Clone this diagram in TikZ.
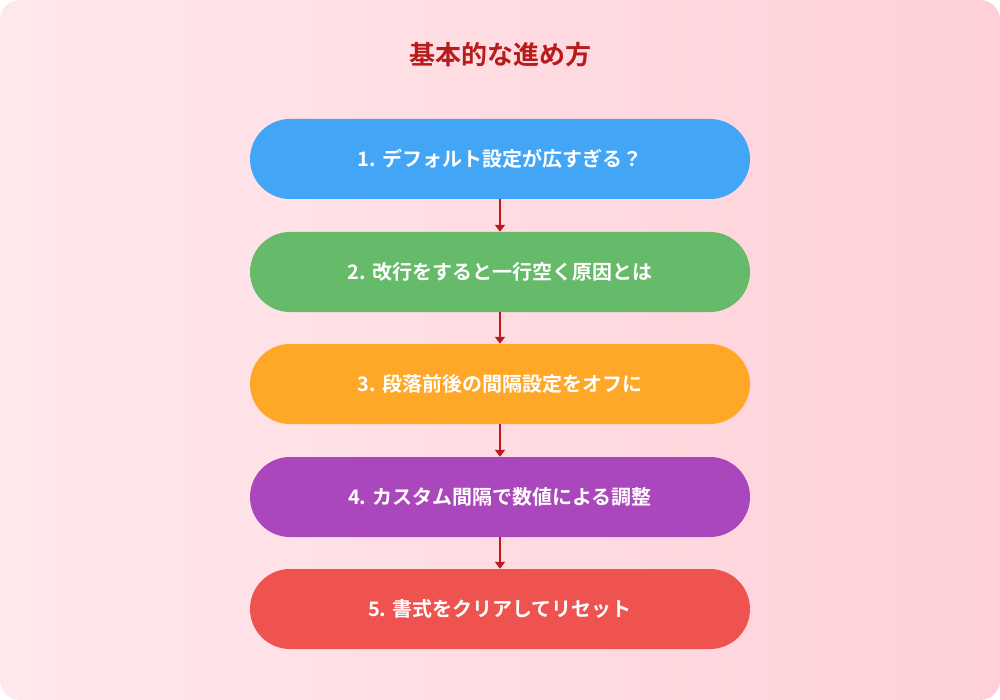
\documentclass[tikz,border=0pt]{standalone}
\usepackage{fontspec}
\setmainfont{Noto Sans CJK JP}[BoldFont={Noto Sans CJK JP Bold}]
\usetikzlibrary{arrows.meta}
\definecolor{bgA}{HTML}{FFE8EC}
\definecolor{bgB}{HTML}{FFD0D8}
\definecolor{ttl}{HTML}{B71C1C}
\definecolor{arr}{HTML}{B71C1C}
\definecolor{cA}{HTML}{42A5F5}
\definecolor{cB}{HTML}{66BB6A}
\definecolor{cC}{HTML}{FFA726}
\definecolor{cD}{HTML}{AB47BC}
\definecolor{cE}{HTML}{EF5350}
\begin{document}
\begin{tikzpicture}[x=1pt,y=-1pt,
  stepbox/.style={minimum width=500pt,minimum height=80pt,rounded corners=40pt,text=white,font=\bfseries\fontsize{20}{24}\selectfont,inner sep=0pt},
  conn/.style={arr,line width=2.5pt,-{Triangle[length=7pt,width=10pt]}}]
\useasboundingbox (0,0) rectangle (1000,700);
\shade[rounded corners=20pt,left color=bgA,right color=bgB] (0,0) rectangle (1000,700);
\node[text=ttl,font=\bfseries\fontsize{26}{30}\selectfont] (t) at (500,55) {基本的な進め方};
\node[stepbox,fill=cA] (a) at (500,159) {1. デフォルト設定が広すぎる？};
\node[stepbox,fill=cB] (b) at (500,272) {2. 改行をすると一行空く原因とは};
\node[stepbox,fill=cC] (c) at (500,384) {3. 段落前後の間隔設定をオフに};
\node[stepbox,fill=cD] (d) at (500,497) {4. カスタム間隔で数値による調整};
\node[stepbox,fill=cE] (e) at (500,609) {5. 書式をクリアしてリセット};
\draw[conn] (a) -- (b);
\draw[conn] (b) -- (c);
\draw[conn] (c) -- (d);
\draw[conn] (d) -- (e);
\end{tikzpicture}
\end{document}
